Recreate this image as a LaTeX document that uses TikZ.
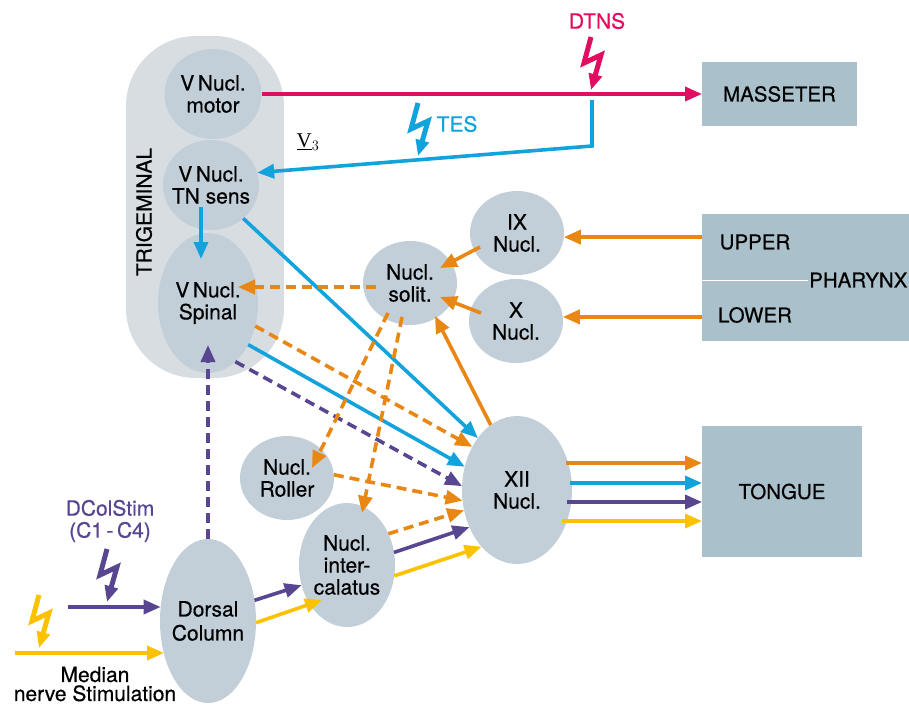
\documentclass[tikz,border=0pt]{standalone}
\usepackage{fontspec}
\setmainfont{TeX Gyre Heros}[FakeBold = 0.5]
\newfontfamily\romfont{Liberation Serif}
\usetikzlibrary{shapes.geometric, arrows.meta, calc}

\definecolor{nuclfill}{RGB}{194,207,216}
\definecolor{trigfill}{RGB}{216,221,225}
\definecolor{boxfill}{RGB}{170,193,203}
\definecolor{dtns}{RGB}{226,12,96}
\definecolor{tes}{RGB}{18,162,220}
\definecolor{ora}{RGB}{232,135,20}
\definecolor{pur}{RGB}{88,70,145}
\definecolor{yel}{RGB}{252,194,0}

\tikzset{bolt/.pic = {\draw[line width = 5pt, line join = miter, miter limit = 4, -{Triangle[length = 16pt, width = 13pt]}] (0,-53) -- (-7,-27) -- (10,-35) -- (0,0);}}

\begin{document}
\begin{tikzpicture}[x = 1pt, y = -1pt, font = \fontsize{21}{22}\selectfont,
    nucl/.style = {shape = ellipse, fill = nuclfill, inner xsep = -6pt, inner ysep = 0pt, outer sep = 0pt, align = center},
    box/.style = {shape = rectangle, fill = boxfill, inner sep = 0pt, outer sep = 0pt, font = \fontsize{20.5}{22}\selectfont},
    arr/.style = {line width = 3.6pt, -{Triangle[length = 17pt, width = 14pt]}},
    dsh/.style = {dash pattern = on 10pt off 6pt}]
    \useasboundingbox (0,0) rectangle (909,704);
    \node[shape = rectangle, fill = trigfill, rounded corners = 70pt, minimum width = 158pt, minimum height = 342pt] (Trig) at (205,207) {};
    \node[rotate = 90] (TrigLbl) at (144,212) {TRIGEMINAL};
    \node[nucl, minimum width = 97pt, minimum height = 90pt] (Vmot) at (213,94) {V\,Nucl.\\motor};
    \node[nucl, minimum width = 96pt, minimum height = 90pt] (Vsens) at (211,185) {V\,Nucl.\\TN sens};
    \node[nucl, minimum width = 100pt, minimum height = 140pt] (Vspin) at (208,303) {V\,Nucl.\\Spinal};
    \node[nucl, minimum width = 94pt, minimum height = 84pt] (Solit) at (410,283) {Nucl.\\solit.};
    \node[nucl, minimum width = 94pt, minimum height = 84pt] (IX) at (517,233) {IX\\Nucl.};
    \node[nucl, minimum width = 94pt, minimum height = 84pt] (X) at (516,321) {X\\Nucl.};
    \node[nucl, minimum width = 110pt, minimum height = 148pt] (XII) at (517,490) {XII\\Nucl.};
    \node[nucl, minimum width = 94pt, minimum height = 84pt] (Roller) at (287,478) {Nucl.\\Roller};
    \node[nucl, minimum width = 96pt, minimum height = 124pt] (Inter) at (347,565) {Nucl.\\inter-\\calatus};
    \node[nucl, minimum width = 96pt, minimum height = 164pt, font = \fontsize{21}{24}\selectfont] (Dorsal) at (208,621) {Dorsal\\Column};

    \node[box, minimum width = 155pt, minimum height = 64pt] (Masseter) at (779.5,94) {MASSETER};
    \node[box, minimum width = 213pt, minimum height = 127pt] (Pharynx) at (808.5,277.5) {};
    \node[box, minimum width = 160pt, minimum height = 131pt] (Tongue) at (782,491.5) {TONGUE};
    \node[font = \fontsize{20.5}{22}\selectfont] (Upper) at (755,242) {UPPER};
    \node[font = \fontsize{20.5}{22}\selectfont] (Lower) at (755,315) {LOWER};
    \node[anchor = west, inner sep = 1pt, font = \fontsize{20.5}{22}\selectfont] (PharLbl) at (808,280) {PHARYNX};
    \draw[white, line width = 1pt] (Pharynx.west |- PharLbl.west) -- (PharLbl.west);

    \node[text = dtns] (DTNS) at (597,21) {DTNS};
    \node[text = tes] (TES) at (457,124) {TES};
    \node[font = \romfont\fontsize{21}{21}\selectfont] (V3) at (308,142) {\underline{V}$_3$};
    \node[text = pur, align = center] (DCol) at (110,521) {DColStim\\(C1\,-\,C4)};
    \node[align = center, font = \fontsize{21}{19}\selectfont] (Median) at (95,684) {Median\\nerve Stimulation};

    \pic[color = dtns] at (591,90) {bolt};
    \pic[color = tes] at (418,156) {bolt};
    \pic[color = pur] at (107,602) {bolt};
    \pic[color = yel] at (39,648) {bolt};

    \coordinate (TesTop) at (592,100);
    \coordinate (DcStart) at (68,607);
    \coordinate (MnStart) at (15,653);

    \draw[arr, dtns] (Vmot) -- (Masseter);
    \draw[arr, tes] (TesTop) -- ++(0,46) -- (Vsens.15);
    \draw[arr, tes] ($(Vsens)+(-10,22)$) -- ($(Vspin)+(-7,-44)$);
    \draw[arr, tes] (Vsens.-46) -- (XII.127);
    \draw[arr, tes] (Vspin.-46) -- (XII.156);
    \draw[arr, ora, dsh] (Vspin.-26) -- (XII.136);
    \draw[arr, pur, dsh] (Vspin.-65) -- (XII.176);
    \draw[arr, ora, dsh] ($(Solit)+(-34,4)$) -- ($(Vspin)+(30,-16)$);
    \draw[arr, ora, dsh] ($(Solit)+(-22,30)$) -- ($(Roller)+(25,-10)$);
    \draw[arr, ora, dsh] ($(Solit)+(-8,34)$) -- ($(Inter)+(15,-52)$);
    \draw[arr, ora, dsh] (Roller.4) -- (XII.191);
    \draw[arr, ora, dsh] (Inter.37) -- (XII.201);
    \draw[arr, pur] (Inter.15) -- (XII.218);
    \draw[arr, yel] (Inter.-13) -- (XII.238);
    \draw[arr, ora] (XII.112) -- ($(Solit)+(25,33)$);
    \draw[arr, ora] ($(IX)+(-37,14)$) -- ($(Solit)+(30,-15)$);
    \draw[arr, ora] ($(X)+(-35,-8)$) -- ($(Solit)+(30,14)$);
    \draw[arr, ora] (Pharynx.west |- IX.-5) -- (IX.-5);
    \draw[arr, ora] (Pharynx.west |- X.5) -- (X.5);
    \draw[arr, ora] ($(XII)+(49,-27)$) -- ($(Tongue.west)+(0,-28.5)$);
    \draw[arr, tes] ($(XII)+(53,-7)$) -- ($(Tongue.west)+(0,-8.5)$);
    \draw[arr, pur] ($(XII)+(50,12)$) -- ($(Tongue.west)+(0,10.5)$);
    \draw[arr, yel] ($(XII)+(45,31)$) -- ($(Tongue.west)+(0,29.5)$);
    \draw[arr, pur, dsh] (Dorsal.north) -- ($(Vspin)+(0,42)$);
    \draw[arr, pur] (DcStart) -- (DcStart -| Dorsal.164);
    \draw[arr, yel] (MnStart) -- (MnStart -| Dorsal.217);
    \draw[arr, pur] (Dorsal.24) -- (Inter.204);
    \draw[arr, yel] (Dorsal.-2) -- ($(Inter)+(-25,35)$);
\end{tikzpicture}
\end{document}
